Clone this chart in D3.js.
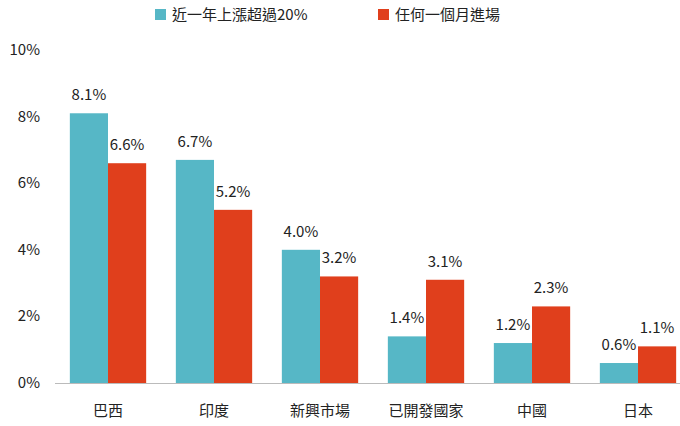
<!DOCTYPE html>
<html><head><meta charset="utf-8">
<script src="https://cdn.jsdelivr.net/npm/d3@7"></script>
<style>body{margin:0;background:#fff}text{font-family:"Noto Sans CJK TC","Noto Sans",sans-serif;fill:#222}</style>
</head><body><svg width="680" height="426"></svg>
<script>
const categories=["巴西","印度","新興市場","已開發國家","中國","日本"];
const seriesNames=["近一年上漲超過20%","任何一個月進場"];
const s1=[8.1,6.7,4.0,1.4,1.2,0.6];
const s2=[6.6,5.2,3.2,3.1,2.3,1.1];
const yTicks=[0,2,4,6,8,10];
const colors=["#56b7c6","#e03f1c"];
const svg=d3.select("svg");
const x=d3.scaleBand().domain(categories).range([55,691]).paddingInner(0.28).paddingOuter(0.14);
const y=d3.scaleLinear().domain([0,10]).range([383,50]);
const sub=d3.scaleBand().domain([0,1]).range([0,x.bandwidth()]);
const g=svg.append("g");
[s1,s2].forEach((s,i)=>{
  g.selectAll(null).data(s).enter().append("rect")
   .attr("x",(d,j)=>x(categories[j])+sub(i)).attr("width",sub.bandwidth())
   .attr("y",d=>y(d)).attr("height",d=>y(0)-y(d)).attr("fill",colors[i]);
  g.selectAll(null).data(s).enter().append("text")
   .attr("x",(d,j)=>x(categories[j])+sub(i)+sub.bandwidth()/2).attr("y",d=>y(d)-13)
   .attr("text-anchor","middle").attr("font-size",15).text(d=>d.toFixed(1)+"%");
});
svg.append("line").attr("x1",55).attr("x2",680).attr("y1",383.5).attr("y2",383.5).attr("stroke","#bbb");
svg.selectAll(null).data(yTicks).enter().append("text").attr("x",40).attr("y",d=>y(d)+5)
 .attr("text-anchor","end").attr("font-size",15).text(d=>d+"%");
svg.selectAll(null).data(categories).enter().append("text").attr("x",d=>x(d)+x.bandwidth()/2).attr("y",416)
 .attr("text-anchor","middle").attr("font-size",15).text(d=>d);
const lx=[155,378];
seriesNames.forEach((n,i)=>{
  svg.append("rect").attr("x",lx[i]).attr("y",9).attr("width",11).attr("height",11).attr("fill",colors[i]);
  svg.append("text").attr("x",lx[i]+17).attr("y",20).attr("font-size",15).text(n);
});
</script></body></html>
